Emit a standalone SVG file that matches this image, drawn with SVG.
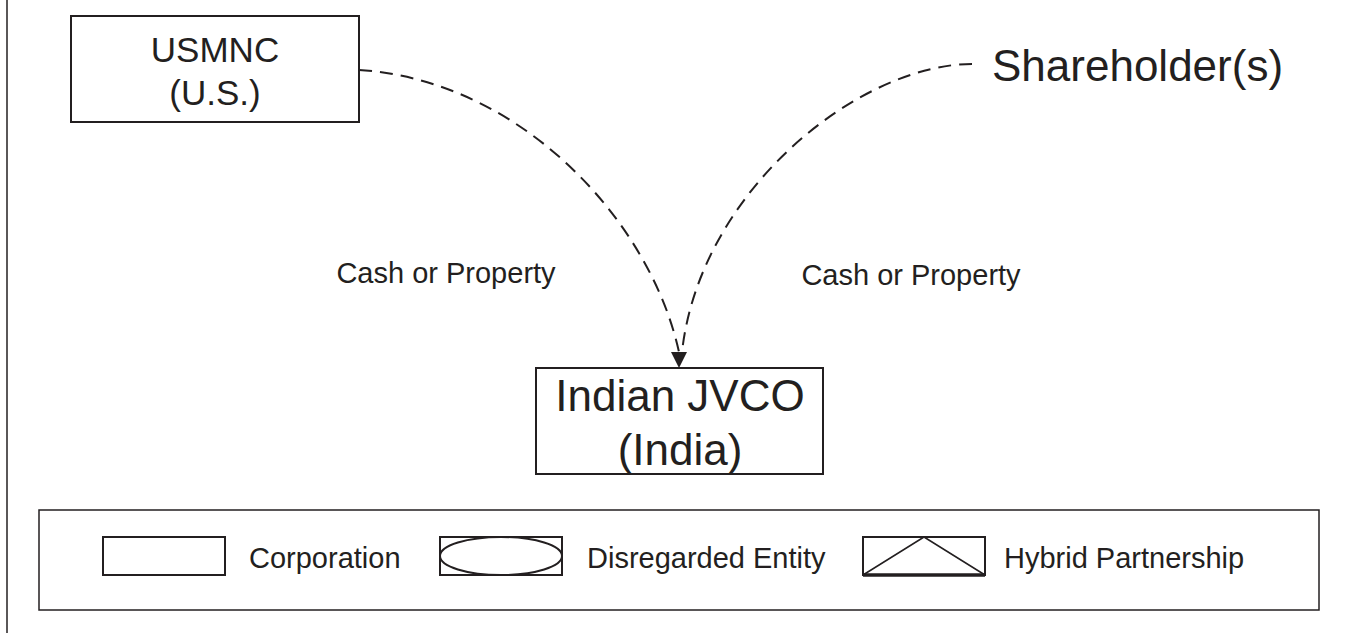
<svg xmlns="http://www.w3.org/2000/svg" width="1349" height="635" viewBox="0 0 1349 635">
  <style>
    .box { fill: #ffffff; stroke: #231f20; stroke-width: 2; }
    .thin { fill: none; stroke: #231f20; stroke-width: 1.5; }
    .flow { fill: none; stroke: #231f20; stroke-width: 2; stroke-dasharray: 13 8; }
    text { font-family: "Liberation Sans", Arial, sans-serif; fill: #231f20; }
    .lg { font-size: 44px; }
    .md { font-size: 35px; }
    .sm { font-size: 29px; }
  </style>
  <defs>
    <marker id="arrow" markerUnits="userSpaceOnUse" markerWidth="16" markerHeight="16" refX="0" refY="8" orient="90">
      <path d="M0,0 L16,8 L0,16 z" fill="#231f20"/>
    </marker>
  </defs>

  <!-- page margin rule -->
  <line x1="7" y1="0" x2="7" y2="633" class="thin"/>

  <g id="usmnc">
    <rect x="71" y="16" width="288" height="106" class="box"/>
    <text x="215" y="62" class="md" text-anchor="middle">USMNC</text>
    <text x="215" y="105" class="md" text-anchor="middle">(U.S.)</text>
  </g>

  <g id="shareholders">
    <text x="992" y="81" class="lg">Shareholder(s)</text>
  </g>

  <g id="indian-jvco">
    <rect x="536" y="368" width="287" height="106" class="box"/>
    <text x="680" y="411" class="lg" text-anchor="middle">Indian JVCO</text>
    <text x="680" y="465" class="lg" text-anchor="middle">(India)</text>
  </g>

  <g id="connectors">
    <path d="M359,70 C520,80 650,220 679,352" class="flow" marker-end="url(#arrow)"/>
    <path d="M972,64 C860,64 700,190 682,352" class="flow"/>
    <text x="446" y="283" class="sm" text-anchor="middle">Cash or Property</text>
    <text x="911" y="285" class="sm" text-anchor="middle">Cash or Property</text>
  </g>

  <g id="legend">
    <rect x="39" y="510" width="1280" height="100" class="thin"/>
    <rect x="103" y="537" width="122" height="38" class="box"/>
    <text x="249" y="568" class="sm">Corporation</text>
    <rect x="440" y="537" width="122" height="38" class="box"/>
    <ellipse cx="501" cy="556" rx="61" ry="19" class="box"/>
    <text x="587" y="568" class="sm">Disregarded Entity</text>
    <rect x="863" y="537" width="122" height="38" class="box"/>
    <path d="M863,575 L924,537 L985,575" class="thin"/>
    <line x1="863" y1="575" x2="985" y2="575" stroke="#231f20" stroke-width="3.5"/>
    <text x="1004" y="568" class="sm">Hybrid Partnership</text>
  </g>
</svg>
